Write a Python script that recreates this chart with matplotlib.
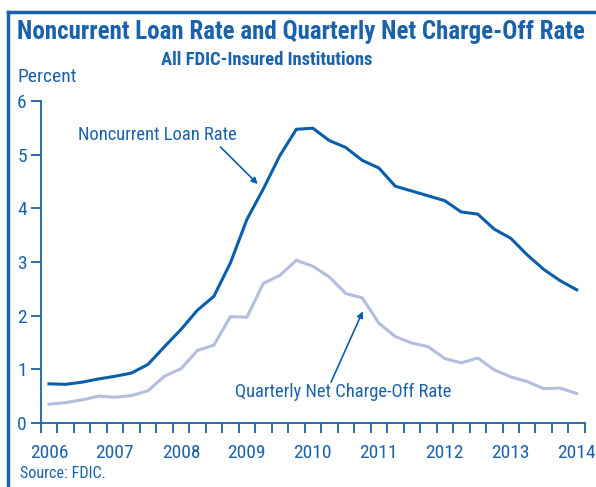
import numpy as np
import matplotlib
matplotlib.use("Agg")
import matplotlib.pyplot as plt

# quarterly, 2006Q1 .. 2014Q1
years = ["2006", "2007", "2008", "2009", "2010", "2011", "2012", "2013", "2014"]
noncurrent = [0.73, 0.72, 0.76, 0.82, 0.87, 0.93, 1.09, 1.42, 1.74, 2.10, 2.36, 2.98,
              3.79, 4.36, 4.98, 5.47, 5.49, 5.26, 5.13, 4.89, 4.75, 4.41, 4.32, 4.23,
              4.14, 3.93, 3.89, 3.61, 3.44, 3.13, 2.86, 2.65, 2.48]
chargeoff = [0.35, 0.38, 0.43, 0.50, 0.48, 0.51, 0.60, 0.87, 1.01, 1.35, 1.45, 1.98,
             1.97, 2.60, 2.75, 3.03, 2.92, 2.72, 2.41, 2.33, 1.86, 1.61, 1.49, 1.42,
             1.20, 1.12, 1.21, 0.99, 0.86, 0.77, 0.64, 0.65, 0.55]

DARK = "#0a5fac"
LIGHT = "#b3bde0"
TXT = "#1a62ac"
plt.rcParams['font.family'] = ["Roboto Condensed", "Archivo Narrow", "Barlow Condensed", "DejaVu Sans"]

fig = plt.figure(figsize=(5.96, 4.87), dpi=100)
ax = fig.add_axes([0.0683, 0.1314, 0.9132, 0.6616])

x = np.arange(len(noncurrent))
ax.plot(x, chargeoff, color=LIGHT, lw=2.2, solid_joinstyle="miter")
ax.plot(x, noncurrent, color=DARK, lw=2.2, solid_joinstyle="miter")

ax.set_xlim(-0.5, len(noncurrent) - 0.5)
ax.set_ylim(0, 6)
ax.set_yticks(range(7))
# ticks sit between quarters, year labels on the Q1 points
ax.set_xticks(np.arange(len(noncurrent) + 1) - 0.5)
ax.set_xticklabels([])
ax.set_xticks(np.arange(0, len(noncurrent), 4), minor=True)
ax.set_xticklabels(years, minor=True)
ax.tick_params(axis="x", which="minor", length=0, pad=15, labelsize=14, labelcolor=TXT)
ax.tick_params(axis="x", which="major", length=7, width=1.3, color=TXT, direction="out")
ax.tick_params(axis="y", length=7, width=1.3, color=TXT, labelsize=14, labelcolor=TXT, pad=3)
for s in ["top", "right"]:
    ax.spines[s].set_visible(False)
for s in ["left", "bottom"]:
    ax.spines[s].set_color(TXT)
    ax.spines[s].set_linewidth(1.3)

arrow = dict(arrowstyle="-|>", color=DARK, lw=1.2, shrinkA=0, shrinkB=0, mutation_scale=9)
ax.text(6.6, 5.36, "Noncurrent Loan Rate", ha="center", va="center", fontsize=13.3, color=TXT)
ax.annotate("", xy=(12.66, 4.45), xytext=(10.4, 5.14), arrowprops=arrow)
ax.text(17.85, 0.575, "Quarterly Net Charge-Off Rate", ha="center", va="center",
        fontsize=13.3, color=TXT)
ax.annotate("", xy=(19.03, 2.08), xytext=(17.1, 0.76), arrowprops=arrow)

fig.text(0.505, 0.934, "Noncurrent Loan Rate and Quarterly Net Charge-Off Rate",
         ha="center", va="center", fontsize=18, fontweight="bold", color=TXT)
fig.text(0.447, 0.877, "All FDIC-Insured Institutions",
         ha="center", va="center", fontsize=13.4, fontweight="bold", color=TXT)
fig.text(0.030, 0.842, "Percent", ha="left", va="center", fontsize=14, color=TXT)
fig.text(0.034, 0.027, "Source: FDIC.", ha="left", va="center", fontsize=11.6, color=TXT)

# frame: only top and left edges visible in the crop
fig.add_artist(plt.Line2D([0.0134, 1.0], [0.9754, 0.9754], color=TXT, lw=2.5,
                          transform=fig.transFigure))
fig.add_artist(plt.Line2D([0.0134, 0.0134], [0.0, 0.9754], color=TXT, lw=2.5,
                          transform=fig.transFigure))

fig.savefig("out.png", dpi=100)
